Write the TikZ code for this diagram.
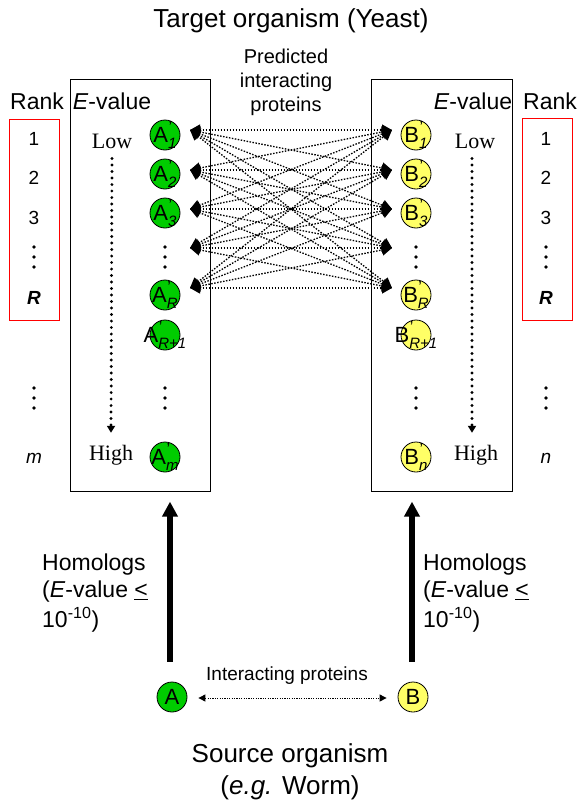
\documentclass[tikz,border=0pt]{standalone}
\usepackage{fontspec}
\setmainfont{Liberation Sans}
\newfontfamily\tms{Liberation Serif}
\usetikzlibrary{arrows.meta,calc}
\definecolor{gfill}{RGB}{0,204,0}
\definecolor{yfill}{RGB}{255,255,102}
\newcommand{\fs}[1]{\fontsize{#1}{#1}\selectfont}
\newcommand{\plab}[2]{#1\rlap{\raisebox{0.45em}{\fs{16}\kern0.5pt\textquoteright}}\raisebox{-0.3em}{\fs{15}\itshape #2}}
\newcommand{\vdt}[2]{\fill (#1,#2-10) circle (1.8) (#1,#2) circle (1.8) (#1,#2+10) circle (1.8);}
\begin{document}
\begin{tikzpicture}[x=1pt,y=-1pt,
  gn/.style={circle,draw,fill=gfill,minimum size=30pt,inner sep=0pt,line width=0.8pt},
  yn/.style={circle,draw,fill=yfill,minimum size=30pt,inner sep=0pt,line width=0.8pt},
  lab/.style={inner sep=0pt,font=\fs{22}},
  box/.style={draw,line width=0.8pt,inner sep=0pt},
  redbox/.style={draw=red,line width=1pt,inner sep=0pt},
  txt/.style={inner sep=0pt},
  pline/.style={line width=1.3pt,dash pattern=on 1.5pt off 1.5pt,{Triangle[length=10pt,width=11pt]}-{Triangle[length=10pt,width=11pt]}},
  vline/.style={line width=3.2pt,line cap=round,dash pattern=on 0pt off 6.5pt,-{Triangle[length=7pt,width=8pt]}},
  thickarr/.style={line width=5.5pt,-{Triangle[length=15pt,width=15pt]}},
  smallarr/.style={line width=1pt,dash pattern=on 1.2pt off 1.2pt,{Triangle[length=7pt,width=7pt]}-{Triangle[length=7pt,width=7pt]}}]
\useasboundingbox (0,0) rectangle (579,803);
\fill[white] (0,0) rectangle (579,803);

% titles
\node[txt,font=\fs{26}] (title) at (291,21) {Target organism (Yeast)};
\node[txt,font=\fs{20},align=center] (pred) at (286,82) {Predicted\\[4pt]interacting\\[4pt]proteins};

% boxes
\node[box,minimum width=140pt,minimum height=412pt] (lbox) at (140,285) {};
\node[box,minimum width=141pt,minimum height=412pt] (rbox) at (441.5,285) {};
\node[redbox,minimum width=50pt,minimum height=201pt] (lred) at (34,219.5) {};
\node[redbox,minimum width=50pt,minimum height=202pt] (rred) at (547,219) {};

% headers
\node[txt,font=\fs{23}] (lrank) at (37,101) {Rank};
\node[txt,font=\fs{23}] (rrank) at (550,101) {Rank};
\node[txt,font=\fs{23}] (lev) at (112,101) {\textit{E}-value};
\node[txt,font=\fs{23}] (rev) at (473,101) {\textit{E}-value};

% rank numbers
\foreach \y/\t [count=\k] in {139/1,178/2,218/3} {
  \node[txt,font=\fs{19}] (lr\k) at (34,\y) {\t};
  \node[txt,font=\fs{19}] (rr\k) at (546,\y) {\t};
}
\vdt{34}{257}
\vdt{546}{257}
\node[txt,font=\fs{19}\bfseries\itshape] (lrR) at (34,298) {R};
\node[txt,font=\fs{19}\bfseries\itshape] (rrR) at (546,298) {R};
\vdt{34}{398}
\vdt{546}{398}
\node[txt,font=\fs{19}\itshape] (lrm) at (34,458) {m};
\node[txt,font=\fs{19}\itshape] (rrn) at (546,458) {n};

% low / high
\node[txt,font=\fs{22}\tms] (llow) at (112,141) {Low};
\node[txt,font=\fs{22}\tms] (rlow) at (475,141) {Low};
\node[txt,font=\fs{22}\tms] (lhigh) at (111,455) {High};
\node[txt,font=\fs{22}\tms] (rhigh) at (476,455) {High};
\draw[vline] ($(llow.south)+(0,10)$) -- ($(lhigh.north)+(0,-12)$);
\draw[vline] ($(rlow.south)+(-3,10)$) -- ($(rhigh.north)+(-4,-12)$);

% target nodes
\foreach \y/\s/\n in {135/1/1,174/2/2,213/3/3,295/R/R,335/R+1/R1,457/m/m} {
  \node[gn] (a\n) at (165,\y) {};
  \node[lab] at (a\n) {\plab{A}{\s}};
}
\foreach \y/\s/\n in {135/1/1,174/2/2,213/3/3,295/R/R,335/R+1/R1,457/n/n} {
  \node[yn] (b\n) at (416,\y) {};
  \node[lab] at (b\n) {\plab{B}{\s}};
}
\vdt{165}{257}
\vdt{416}{257}
\vdt{165}{398}
\vdt{416}{398}

% predicted interaction ends
\foreach \y [count=\k] in {130,170,209,248,288} {
  \coordinate (pl\k) at (190,\y);
  \coordinate (pr\k) at (392,\y);
}
\foreach \i in {1,...,5} {
  \foreach \j in {1,...,5} {
    \draw[pline] (pl\i) -- (pr\j);
  }
}

% source organism
\node[gn] (A) at (172,697) {};
\node[lab] at (A) {A};
\node[yn] (B) at (413,697) {};
\node[lab] at (B) {B};
\draw[smallarr] ($(A.east)+(11,1)$) -- ($(B.west)+(-11,1)$);
\node[txt,font=\fs{19}] (ip) at (287,676) {Interacting proteins};
\draw[thickarr] ($(A.north)+(-2,-20)$) -- ($(A.north)+(-2,-180)$);
\draw[thickarr] ($(B.north)+(-1,-20)$) -- ($(B.north)+(-1,-180)$);

\node[txt,font=\fs{23},align=left,anchor=west] (lhom) at (42,593) {Homologs\\[4pt](\textit{E}-value \underline{<}\\[4pt]10\textsuperscript{-10})};
\node[txt,font=\fs{23},align=left,anchor=west] (rhom) at (423,593) {Homologs\\[4pt](\textit{E}-value \underline{<}\\[4pt]10\textsuperscript{-10})};

\node[txt,font=\fs{26},align=center] (src) at (290,772) {Source organism\\[6pt](\textit{e.g.} Worm)};
\end{tikzpicture}
\end{document}
